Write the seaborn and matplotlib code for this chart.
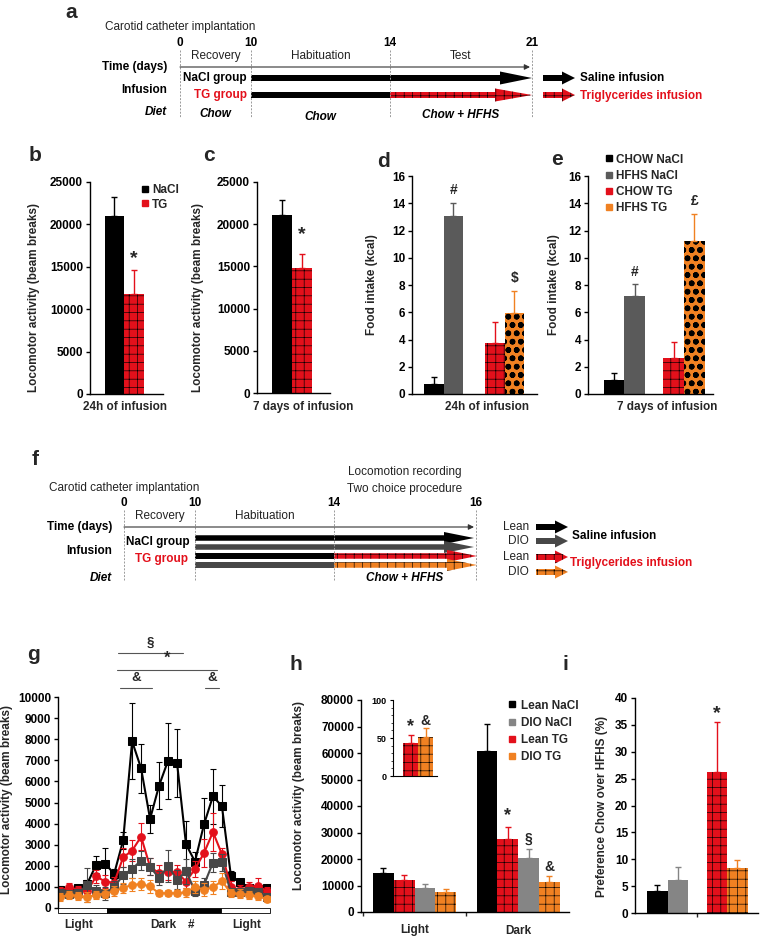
import numpy as np
import pandas as pd
import matplotlib
matplotlib.use("Agg")
import matplotlib.pyplot as plt
import seaborn as sns
from matplotlib.patches import FancyArrow, Rectangle
from matplotlib.lines import Line2D

# ---------------- data ----------------
bc_groups = ["NaCl", "TG"]
b_xlabel = "24h of infusion"
b_mean = [20950, 11800]
b_sem = [2300, 2850]
c_xlabel = "7 days of infusion"
c_mean = [21140, 14840]
c_sem = [1700, 1620]

de_infusion = ["NaCl", "NaCl", "TG", "TG"]
de_diet = ["CHOW", "HFHS", "CHOW", "HFHS"]
de_names = ["CHOW NaCl", "HFHS NaCl", "CHOW TG", "HFHS TG"]
d_mean = [0.75, 13.05, 3.73, 5.93]
d_sem = [0.49, 1.0, 1.54, 1.66]
d_sig = ["", "#", "", "$"]
e_mean = [1.02, 7.2, 2.63, 11.24]
e_sem = [0.54, 0.85, 1.17, 2.0]
e_sig = ["", "#", "", "£"]

g_hours = list(range(24))
g_lean_nacl = [870, 750, 950, 1150, 2050, 2100, 1620, 3200, 7900, 6620, 4220, 5800,
               6980, 6880, 3020, 2200, 3960, 5300, 4820, 1520, 1220, 950, 880, 950]
g_lean_nacl_sem = [150, 150, 150, 200, 400, 750, 250, 400, 1800, 1150, 650, 1100,
                   1800, 1600, 1100, 450, 1250, 1300, 1000, 250, 150, 150, 100, 100]
g_lean_tg = [800, 1000, 850, 800, 1500, 1250, 1200, 2400, 2720, 3380, 1950, 1650,
             1720, 1700, 1250, 1850, 2600, 3600, 2550, 1000, 850, 1000, 1050, 800]
g_lean_tg_sem = [200, 200, 200, 250, 300, 300, 250, 450, 500, 650, 400, 400,
                 400, 350, 300, 400, 650, 900, 300, 300, 250, 250, 350, 200]
g_dio_nacl = [700, 650, 700, 1100, 800, 700, 1000, 1550, 1850, 2250, 1950, 1420,
              1980, 1350, 1730, 820, 1100, 2150, 2170, 750, 750, 800, 750, 500]
g_dio_nacl_sem = [200, 150, 200, 800, 300, 300, 300, 400, 450, 450, 400, 350,
                  750, 450, 600, 250, 300, 450, 400, 200, 200, 200, 200, 150]
g_dio_tg = [520, 620, 580, 520, 620, 680, 800, 950, 1100, 1130, 1020, 700,
            700, 700, 740, 1000, 870, 980, 1280, 700, 680, 620, 550, 430]
g_dio_tg_sem = [200, 200, 200, 250, 200, 200, 250, 250, 300, 300, 300, 150,
                150, 150, 200, 300, 300, 300, 400, 200, 200, 200, 150, 150]
g_phases = [("white", -0.25, 5.23), ("black", 5.23, 17.9), ("white", 17.9, 23.35)]
g_phase_labels = [("Light", 2.0), ("Dark", 11.5), ("#", 14.6), ("Light", 20.8)]
g_sig = [("§", 6.45, 13.7, 12080), ("*", 6.3, 17.5, 11280),
         ("&", 6.7, 10.2, 10430), ("&", 16.1, 17.7, 10430)]

h_periods = ["Light", "Dark"]
h_groups = ["Lean NaCl", "Lean TG", "DIO NaCl", "DIO TG"]
h_light_mean = [14740, 12200, 9200, 7560]
h_light_sem = [2000, 1900, 1250, 1250]
h_dark_mean = [60830, 27580, 20280, 11210]
h_dark_sem = [10200, 4660, 3650, 2270]
h_dark_sig = ["", "*", "§", "&"]
inset_groups = ["Lean TG", "DIO TG"]
inset_mean = [43.4, 51.3]
inset_sem = [10.5, 12.0]
inset_sig = ["*", "&"]

i_infusion = ["NaCl", "NaCl", "TG", "TG"]
i_diet = ["Lean", "DIO", "Lean", "DIO"]
i_mean = [4.04, 6.22, 26.26, 8.28]
i_sem = [1.25, 2.3, 9.3, 1.55]
i_sig = ["", "", "*", ""]

# ---------------- style ----------------
BLACK = "#000000"
RED = "#E3101B"
ORANGE = "#F08122"
GREY_DE = "#5A5A5A"
GREY_HI = "#858585"
GREY_G = "#474747"
RED_HATCH = "++"
OR_HATCH = "oo"

sns.set_theme(style="white")
plt.rcParams["font.family"] = ["Liberation Sans", "DejaVu Sans"]
plt.rcParams["font.weight"] = "bold"
plt.rcParams["axes.labelweight"] = "bold"
plt.rcParams["hatch.linewidth"] = 0.45
plt.rcParams["axes.edgecolor"] = "black"
plt.rcParams["axes.linewidth"] = 1.0
FS = 8.5

W, H = 764, 939
fig = plt.figure(figsize=(W / 100, H / 100), dpi=100)
fig.patch.set_facecolor("white")

bg = fig.add_axes([0, 0, 1, 1])
bg.set_xlim(0, W)
bg.set_ylim(H, 0)
bg.axis("off")
bg.patch.set_alpha(0)


def px_axes(l, t, r, b):
    ax = fig.add_axes([l / W, 1 - b / H, (r - l) / W, (b - t) / H])
    ax.patch.set_alpha(0)
    return ax


def style(ax, ylim, yticks, labelsize=FS):
    ax.set_ylim(*ylim)
    ax.set_yticks(yticks)
    for s in ["top", "right"]:
        ax.spines[s].set_visible(False)
    ax.tick_params(axis="y", length=3, width=1, direction="out", labelsize=labelsize,
                   pad=2, left=True, colors="black")
    ax.tick_params(axis="x", bottom=False, labelbottom=False)
    ax.set_xlabel("")
    ax.set_ylabel("")


def set_hlw(p, lw):
    if hasattr(p, "set_hatch_linewidth"):
        p.set_hatch_linewidth(lw)
    elif hasattr(p, "_hatch_linewidth"):
        p._hatch_linewidth = lw


def draw_bars(ax, xcat, hue, values, sems, colors, hatches, width, capsize=2.5):
    df = pd.DataFrame({"x": xcat, "hue": hue, "v": values})
    nh = df["hue"].nunique()
    sns.barplot(data=df, x="x", y="v", hue="hue", ax=ax, errorbar=None, width=width,
                legend=False, saturation=1, dodge=True, palette=[BLACK] * nh)
    patches = sorted(ax.patches, key=lambda p: p.get_x())
    centers = []
    for p, c, h in zip(patches, colors, hatches):
        p.set_facecolor(c)
        p.set_linewidth(0)
        if h:
            p.set_edgecolor("black")
            p.set_hatch(h)
            set_hlw(p, 1.7 if "o" in h else 0.45)
        else:
            p.set_edgecolor(c)
        centers.append(p.get_x() + p.get_width() / 2)
    for x, v, s, c in zip(centers, values, sems, colors):
        ax.errorbar([x], [v], yerr=[[0], [s]], fmt="none", ecolor=c, elinewidth=1.0,
                    capsize=capsize, capthick=1.0)
    return centers


def annotate(ax, centers, values, sems, labels, offset_pt, size=11):
    for x, v, s, lab in zip(centers, values, sems, labels):
        if lab:
            ax.annotate(lab, (x, v + s), xytext=(0, offset_pt), textcoords="offset points",
                        ha="center", va="bottom", fontsize=(size + 3 if lab == "*" else size),
                        fontweight="bold", annotation_clip=False)


def panel_letter(ch, x, y):
    bg.text(x, y, ch, fontsize=15, fontweight="bold", ha="center", va="baseline")


def ylabel_at(ax, text, l, r, t, b, xpx, ypx):
    ax.set_ylabel(text, fontsize=FS, fontweight="bold")
    ax.yaxis.set_label_coords((xpx - l) / (r - l), (b - ypx) / (b - t))


def xlabel_at(ax, text, l, r, t, b, xpx, ypx):
    ax.set_xlabel(text, fontsize=FS, fontweight="bold")
    ax.xaxis.set_label_coords((xpx - l) / (r - l), (b - ypx) / (b - t))
    ax.xaxis.label.set_va("center")


# ---------------- panel b ----------------
L, T, R, B = 90, 182, 163, 394
axb = px_axes(L, T, R, B)
cb = draw_bars(axb, [b_xlabel] * 2, bc_groups, b_mean, b_sem, [BLACK, RED], ["", RED_HATCH], 0.534)
axb.set_xlim(-0.466, 0.534)
style(axb, (0, 25000), range(0, 25001, 5000))
ylabel_at(axb, "Locomotor activity (beam breaks)", L, R, T, B, 40, 297)
xlabel_at(axb, b_xlabel, L, R, T, B, 125, 407)
annotate(axb, cb, b_mean, b_sem, ["", "*"], 2, size=11)
axb.legend(handles=[Line2D([], [], ls="", marker="s", ms=4.5, color=c) for c in [BLACK, RED]],
           labels=bc_groups, loc="upper left", bbox_to_anchor=(0.62, 1.02), frameon=False,
           borderpad=0, handlelength=0.6, handletextpad=0.3, labelspacing=0.25,
           prop={"size": FS, "weight": "bold"})
panel_letter("b", 35, 161)

# ---------------- panel c ----------------
L, T, R, B = 257, 182, 330, 393
axc = px_axes(L, T, R, B)
cc = draw_bars(axc, [c_xlabel] * 2, bc_groups, c_mean, c_sem, [BLACK, RED], ["", RED_HATCH], 0.55)
axc.set_xlim(-0.48, 0.52)
style(axc, (0, 25000), range(0, 25001, 5000))
ylabel_at(axc, "Locomotor activity (beam breaks)", L, R, T, B, 204, 297)
xlabel_at(axc, c_xlabel, L, R, T, B, 303, 407)
annotate(axc, cc, c_mean, c_sem, ["", "*"], 8, size=11)
panel_letter("c", 209, 161)

# ---------------- panel d ----------------
DE_COLORS = [BLACK, GREY_DE, RED, ORANGE]
DE_HATCH = ["", "", RED_HATCH, OR_HATCH]
L, T, R, B = 412, 176, 537, 394
axd = px_axes(L, T, R, B)
cd = draw_bars(axd, de_infusion, de_diet, d_mean, d_sem, DE_COLORS, DE_HATCH, 0.64, capsize=2)
axd.set_xlim(-0.516, 1.53)
style(axd, (0, 16), range(0, 17, 2))
ylabel_at(axd, "Food intake (kcal)", L, R, T, B, 378, 285)
xlabel_at(axd, b_xlabel, L, R, T, B, 487, 407)
annotate(axd, cd, d_mean, d_sem, d_sig, 4, size=10)
panel_letter("d", 384, 167)

# ---------------- panel e ----------------
L, T, R, B = 588, 176, 713, 394
axe = px_axes(L, T, R, B)
ce = draw_bars(axe, de_infusion, de_diet, e_mean, e_sem, DE_COLORS, DE_HATCH, 0.69, capsize=2)
axe.set_xlim(-0.613, 1.487)
style(axe, (0, 16), range(0, 17, 2))
ylabel_at(axe, "Food intake (kcal)", L, R, T, B, 560, 285)
xlabel_at(axe, c_xlabel, L, R, T, B, 667, 407)
annotate(axe, ce, e_mean, e_sem, e_sig, 4, size=10)
axe.legend(handles=[Line2D([], [], ls="", marker="s", ms=4.5, color=c) for c in DE_COLORS],
           labels=de_names, loc="upper left", bbox_to_anchor=(0.09, 1.13), frameon=False,
           borderpad=0, handlelength=0.6, handletextpad=0.35, labelspacing=0.35,
           prop={"size": FS, "weight": "bold"})
panel_letter("e", 557, 165)

# ---------------- panel g ----------------
L, T, R, B = 58, 697, 270, 908
axg = px_axes(L, T, R, B)
g_series = [(g_lean_nacl, g_lean_nacl_sem, BLACK, "s"),
            (g_lean_tg, g_lean_tg_sem, RED, "o"),
            (g_dio_nacl, g_dio_nacl_sem, GREY_G, "s"),
            (g_dio_tg, g_dio_tg_sem, ORANGE, "o")]
for vals, sems, col, mk in g_series:
    axg.errorbar(g_hours, vals, yerr=sems, fmt="none", ecolor=col, elinewidth=0.8,
                 capsize=2, capthick=0.8)
    sns.lineplot(x=g_hours, y=vals, ax=axg, color=col, marker=mk, markersize=5.5,
                 markeredgecolor=col, linewidth=1.5)
axg.set_xlim(-0.25, 23.35)
style(axg, (0, 10000), range(0, 10001, 1000))
axg.spines["bottom"].set_visible(False)
for col, x0, x1 in g_phases:
    axg.add_patch(Rectangle((x0, -0.026), x1 - x0, 0.026, transform=axg.get_xaxis_transform(),
                            facecolor=col, edgecolor="black", lw=0.6, clip_on=False))
for lab, x in g_phase_labels:
    axg.text(x, -0.082, lab, transform=axg.get_xaxis_transform(), ha="center", va="center",
             fontsize=FS, fontweight="bold")
for lab, x0, x1, y in g_sig:
    axg.plot([x0, x1], [y, y], color="#555555", lw=0.8, clip_on=False)
    axg.text((x0 + x1) / 2, y + 180, lab, ha="center", va="bottom",
             fontsize=12 if lab == "*" else 9.5, fontweight="bold")
ylabel_at(axg, "Locomotor activity (beam breaks)", L, R, T, B, 13, 800)
panel_letter("g", 33, 660)

# ---------------- panel h ----------------
H_COLORS = [BLACK, RED, GREY_HI, ORANGE]
H_HATCH = ["", RED_HATCH, "", RED_HATCH]
L, T, R, B = 361, 700, 569, 912
axh = px_axes(L, T, R, B)
hx = [p for p in h_periods for _ in h_groups]
hh = h_groups * 2
ch = draw_bars(axh, hx, hh, h_light_mean + h_dark_mean, h_light_sem + h_dark_sem,
               H_COLORS * 2, H_HATCH * 2, 0.80, capsize=2)
axh.set_xlim(-0.517, 1.49)
style(axh, (0, 80000), range(0, 80001, 10000))
axh.set_xticks([-0.5, 0.5])
axh.set_xticks([0, 1], minor=True)
axh.set_xticklabels(h_periods, minor=True)
axh.tick_params(axis="x", which="major", bottom=True, length=3, width=1, labelbottom=False)
axh.tick_params(axis="x", which="minor", bottom=True, length=0, labelbottom=True,
                labelsize=FS, pad=9)
ylabel_at(axh, "Locomotor activity (beam breaks)", L, R, T, B, 305, 796)
annotate(axh, ch[4:], h_dark_mean, h_dark_sem, h_dark_sig, 2, size=10)
leg_order = [0, 2, 1, 3]
axh.legend(handles=[Line2D([], [], ls="", marker="s", ms=4.5, color=H_COLORS[k]) for k in leg_order],
           labels=[h_groups[k] for k in leg_order], loc="upper left",
           bbox_to_anchor=(0.68, 1.03), frameon=False, borderpad=0, handlelength=0.6,
           handletextpad=0.5, labelspacing=0.45, prop={"size": FS, "weight": "bold"})
panel_letter("h", 296, 670)

# inset
L2, T2, R2, B2 = 393, 700, 437, 776
axin = px_axes(L2, T2, R2, B2)
cin = draw_bars(axin, ["Dark", "Dark"], inset_groups, inset_mean, inset_sem, [RED, ORANGE],
                [RED_HATCH, RED_HATCH], 0.6, capsize=2)
axin.set_xlim(-0.5, 0.38)
style(axin, (0, 100), [0, 50, 100], labelsize=6.5)
axin.set_yticks(range(0, 101, 10), minor=True)
axin.tick_params(axis="y", which="minor", length=1.5, width=0.6, left=True)
axin.tick_params(axis="y", which="major", length=2.5, width=0.8)
axin.spines["left"].set_linewidth(0.8)
axin.spines["bottom"].set_linewidth(0.8)
annotate(axin, cin, inset_mean, inset_sem, inset_sig, 0, size=10)

# ---------------- panel i ----------------
L, T, R, B = 635, 698, 758, 913
axi = px_axes(L, T, R, B)
ci = draw_bars(axi, i_infusion, i_diet, i_mean, i_sem, [BLACK, GREY_HI, RED, ORANGE],
               ["", "", RED_HATCH, RED_HATCH], 0.69, capsize=2)
axi.set_xlim(-0.546, 1.52)
style(axi, (0, 40), range(0, 41, 5))
axi.set_xticks([0.5])
axi.tick_params(axis="x", bottom=True, length=3, width=1, labelbottom=False)
ylabel_at(axi, "Preference Chow over HFHS (%)", L, R, T, B, 608, 806)
annotate(axi, ci, i_mean, i_sem, i_sig, 0, size=11)
panel_letter("i", 565, 670)

# ---------------- diagram helpers ----------------
DASH = "#9a9a9a"


def arrow(x0, x1, y, color, hatch=None, width=6, head_w=13, head_l=30):
    a = FancyArrow(x0, y, x1 - x0, 0, width=width, head_width=head_w, head_length=head_l,
                   length_includes_head=True, facecolor=color,
                   edgecolor="black" if hatch else color, lw=0, hatch=hatch)
    if hatch:
        set_hlw(a, 0.45)
    bg.add_patch(a)


def bar(x0, x1, y, color, width=6):
    bg.add_patch(Rectangle((x0, y - width / 2), x1 - x0, width, facecolor=color, lw=0))


def txt(x, y, s, ha="center", weight="normal", color="#222222", style="normal", size=FS):
    bg.text(x, y, s, ha=ha, va="center", fontsize=size, fontweight=weight, color=color,
            fontstyle=style)


def timeline(days, pxs, y_day, y_top, y_bot, y_time):
    bg.vlines(pxs, y_top, y_bot, colors=DASH, linestyles=(0, (2, 1.5)), lw=0.7)
    for d, x in zip(days, pxs):
        txt(x, y_day, str(d), weight="bold", color="black")
    bg.annotate("", xy=(pxs[-1] - 2, y_time), xytext=(pxs[0], y_time),
                arrowprops=dict(arrowstyle="-|>", lw=0.8, color="#333333", mutation_scale=8,
                                shrinkA=0, shrinkB=0))


# ---------------- panel a ----------------
panel_letter("a", 71, 18)
a_days = [0, 10, 14, 21]
a_px = [180, 251, 390, 532]
txt(105, 27, "Carotid catheter implantation", ha="left")
timeline(a_days, a_px, 43, 50, 118, 67)
for name, i0 in [("Recovery", 0), ("Habituation", 1), ("Test", 2)]:
    txt((a_px[i0] + a_px[i0 + 1]) / 2, 56, name)
txt(167, 67, "Time (days)", ha="right", weight="bold", color="black")
txt(167, 90, "Infusion", ha="right", weight="bold", color="black")
txt(167, 112, "Diet", ha="right", weight="bold", color="black", style="italic")
txt(247, 78, "NaCl group", ha="right", weight="bold", color="black")
txt(247, 95, "TG group", ha="right", weight="bold", color=RED)
arrow(a_px[1], a_px[3], 78, BLACK, head_l=32)
bar(a_px[1], a_px[2], 95, BLACK)
arrow(a_px[2], a_px[3], 95, RED, hatch=RED_HATCH, head_l=37)
txt(215, 114, "Chow", weight="bold", color="black", style="italic")
txt(320, 117, "Chow", weight="bold", color="black", style="italic")
txt(461, 115, "Chow + HFHS", weight="bold", color="black", style="italic")
arrow(543, 575, 78, BLACK, head_l=13)
arrow(543, 575, 95, RED, hatch=RED_HATCH, head_l=13)
txt(580, 78, "Saline infusion", ha="left", weight="bold", color="black")
txt(580, 96, "Triglycerides infusion", ha="left", weight="bold", color=RED)

# ---------------- panel f ----------------
panel_letter("f", 35, 465)
f_days = [0, 10, 14, 16]
f_px = [124, 195, 334, 476]
txt(49, 488, "Carotid catheter implantation", ha="left")
txt(405, 472, "Locomotion recording")
txt(405, 489, "Two choice procedure")
timeline(f_days, f_px, 503, 510, 580, 527)
txt((f_px[0] + f_px[1]) / 2, 516, "Recovery")
txt((f_px[1] + f_px[2]) / 2, 516, "Habituation")
txt(112, 527, "Time (days)", ha="right", weight="bold", color="black")
txt(112, 551, "Infusion", ha="right", weight="bold", color="black")
txt(112, 578, "Diet", ha="right", weight="bold", color="black", style="italic")
txt(190, 542, "NaCl group", ha="right", weight="bold", color="black")
txt(188, 559, "TG group", ha="right", weight="bold", color=RED)
arrow(f_px[1], f_px[3] - 2, 538, BLACK, width=5.5, head_w=12)
arrow(f_px[1], f_px[3] - 2, 547, GREY_G, width=5.5, head_w=12)
bar(f_px[1], f_px[2], 556, BLACK, width=5.5)
arrow(f_px[2], f_px[3] + 1, 556, RED, hatch=RED_HATCH, width=5.5, head_w=12)
bar(f_px[1], f_px[2], 565, GREY_G, width=5.5)
arrow(f_px[2], f_px[3] + 1, 565, ORANGE, hatch=RED_HATCH, width=5.5, head_w=12)
txt(405, 578, "Chow + HFHS", weight="bold", color="black", style="italic")
for lab, y, col, hat in [("Lean", 527, BLACK, None), ("DIO", 541, GREY_G, None),
                         ("Lean", 557, RED, RED_HATCH), ("DIO", 572, ORANGE, RED_HATCH)]:
    txt(529, y, lab, ha="right")
    arrow(536, 568, y, col, hatch=hat, head_l=13)
txt(572, 536, "Saline infusion", ha="left", weight="bold", color="black")
txt(570, 563, "Triglycerides infusion", ha="left", weight="bold", color=RED)

fig.savefig("out.png", dpi=100, facecolor="white")
